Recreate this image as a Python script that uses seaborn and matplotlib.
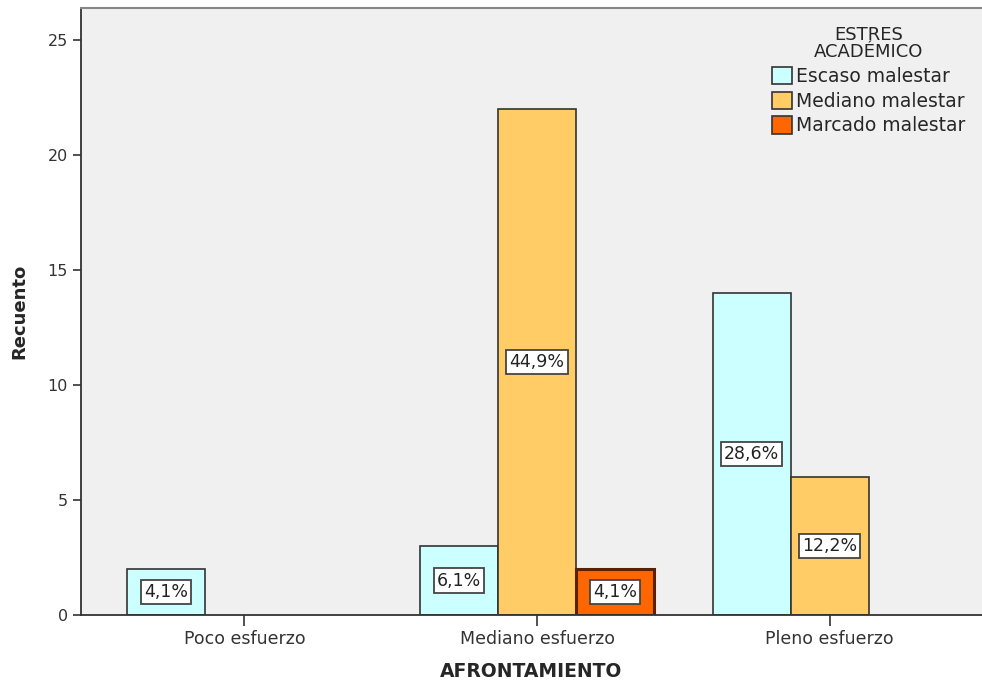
import numpy as np
import pandas as pd
import matplotlib
matplotlib.use('Agg')
import matplotlib.pyplot as plt
import seaborn as sns

# data
afrontamiento = ['Poco esfuerzo', 'Mediano esfuerzo', 'Mediano esfuerzo', 'Mediano esfuerzo',
                 'Pleno esfuerzo', 'Pleno esfuerzo']
estres = ['Escaso malestar', 'Escaso malestar', 'Mediano malestar', 'Marcado malestar',
          'Escaso malestar', 'Mediano malestar']
recuento = [2, 3, 22, 2, 14, 6]
porcentaje = ['4,1%', '6,1%', '44,9%', '4,1%', '28,6%', '12,2%']

x_order = ['Poco esfuerzo', 'Mediano esfuerzo', 'Pleno esfuerzo']
hue_order = ['Escaso malestar', 'Mediano malestar', 'Marcado malestar']
colores = ['#CCFFFF', '#FFCC66', '#FF6600']

df = pd.DataFrame({'AFRONTAMIENTO': afrontamiento, 'ESTRES': estres,
                   'Recuento': recuento, 'pct': porcentaje})

sns.set_style('white')
plt.rcParams['font.family'] = ['DejaVu Sans']

fig = plt.figure(figsize=(9.82, 6.86), dpi=100)
ax = fig.add_axes([0.0825, 0.1035, 0.9175, 0.885])
ax.set_facecolor('#F0F0F0')

sns.barplot(data=df, x='AFRONTAMIENTO', y='Recuento', hue='ESTRES',
            order=x_order, hue_order=hue_order, palette=colores, saturation=1,
            edgecolor='#333333', linewidth=1.2, width=0.8, ax=ax)

# thicker, darker edge on the Marcado bar as in the original
for bar in ax.containers[2]:
    bar.set_edgecolor('#5A2000')
    bar.set_linewidth(2.2)

# percentage labels, centered in each bar
for _, row in df.iterrows():
    i = x_order.index(row['AFRONTAMIENTO'])
    j = hue_order.index(row['ESTRES'])
    xc = i + (j - 1) * 0.8 / 3
    ax.text(xc, row['Recuento'] / 2, row['pct'], ha='center', va='center',
            fontsize=12.5, color='#222222',
            bbox=dict(boxstyle='square,pad=0.18', facecolor='white', edgecolor='#444444', linewidth=1.3))

ax.set_ylim(0, 26.4)
ax.set_xlim(-0.558, 2.52)
ax.set_yticks([0, 5, 10, 15, 20, 25])
ax.tick_params(axis='both', colors='#333333', width=1.2)
ax.tick_params(axis='y', direction='out', left=True, length=6, labelsize=11.5)
ax.tick_params(axis='x', direction='out', bottom=True, length=8, pad=3, labelsize=12.5)

ax.set_xlabel('AFRONTAMIENTO', fontsize=13.5, fontweight='bold', labelpad=10)
ax.set_ylabel('Recuento', fontsize=13, fontweight='bold', labelpad=14)

for s in ['left', 'bottom']:
    ax.spines[s].set_color('#333333')
    ax.spines[s].set_linewidth(1.3)
ax.spines['top'].set_color('#888888')
ax.spines['top'].set_linewidth(1.5)
ax.spines['right'].set_visible(False)

leg = ax.legend(title='ESTRES\nACADÉMICO', loc='upper right', bbox_to_anchor=(1.0, 0.998),
                frameon=False, fontsize=13.5, title_fontsize=13, handlelength=1.05,
                handleheight=1.05, handletextpad=0.2, labelspacing=0.3)
leg.get_title().set_multialignment('center')
leg.get_title().set_linespacing(0.95)
for h in leg.legend_handles:
    h.set_edgecolor('#333333')
    h.set_linewidth(1.2)

fig.savefig('out.png', dpi=100)
